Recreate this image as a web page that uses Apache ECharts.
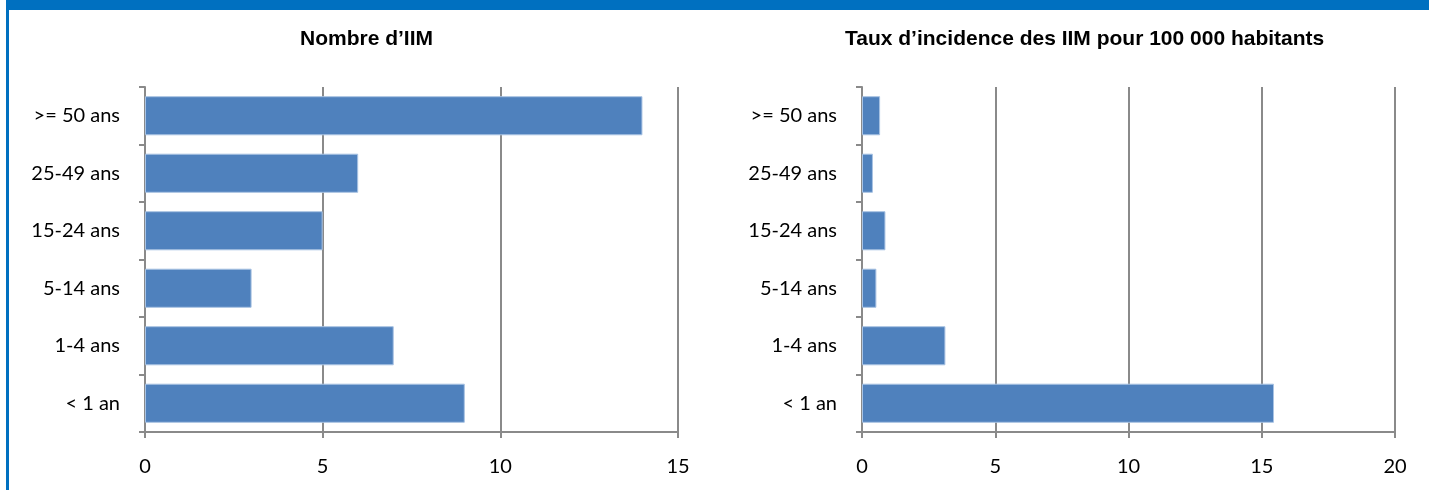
<!DOCTYPE html>
<html>
<head>
<meta charset="utf-8">
<script src="https://cdn.jsdelivr.net/npm/echarts@6/dist/echarts.min.js"></script>
<style>
  html, body { margin: 0; padding: 0; background: #fff; }
  #chart { width: 1429px; height: 490px; }
</style>
</head>
<body>
<div id="chart"></div>
<script>
// groupes d'age (du bas vers le haut)
var categories = ['< 1 an', '1-4 ans', '5-14 ans', '15-24 ans', '25-49 ans', '>= 50 ans'];
// nombre d'IIM
var nombreIIM = [9, 7, 3, 5, 6, 14];
// taux d'incidence pour 100 000 habitants
var tauxIncidence = [15.46, 3.13, 0.54, 0.88, 0.41, 0.68];
var xTicksLeft = { min: 0, max: 15, interval: 5 };
var xTicksRight = { min: 0, max: 20, interval: 5 };

var gris = '#8a8a8a';
var bleu = '#4f81bd';
var police = 'Lato';

function axeX(idx, t) {
    return {
        type: 'value', gridIndex: idx,
        min: t.min, max: t.max, interval: t.interval,
        axisLine: { show: true, lineStyle: { color: gris, width: 2 } },
        axisTick: { show: true, length: 6, lineStyle: { color: gris, width: 2 } },
        axisLabel: { margin: 25, color: '#000', fontSize: 20, fontFamily: police },
        splitLine: { show: true, lineStyle: { color: gris, width: 2 } }
    };
}
function axeY(idx) {
    return {
        type: 'category', gridIndex: idx, data: categories,
        axisLine: { show: true, lineStyle: { color: gris, width: 2 } },
        axisTick: { show: true, length: 6, lineStyle: { color: gris, width: 2 } },
        axisLabel: { margin: 25, color: '#000', fontSize: 20, fontFamily: police }
    };
}
function serie(idx, data) {
    return {
        type: 'bar', xAxisIndex: idx, yAxisIndex: idx, data: data,
        barCategoryGap: '32%',
        itemStyle: { color: bleu, borderColor: '#a9c3e3', borderWidth: 1 },
        silent: true
    };
}

var myChart = echarts.init(document.getElementById('chart'));
myChart.setOption({
    animation: false,
    title: [
        { text: 'Nombre d\u2019IIM', left: 295, top: 24,
          textStyle: { fontSize: 21, fontWeight: 'bold', color: '#000', fontFamily: 'Liberation Sans' } },
        { text: 'Taux d\u2019incidence des IIM pour 100 000 habitants', left: 840, top: 24,
          textStyle: { fontSize: 21, fontWeight: 'bold', color: '#000', fontFamily: 'Liberation Sans' } }
    ],
    graphic: [
        { type: 'rect', shape: { x: 6, y: 0, width: 1423, height: 10 }, style: { fill: '#0070c0' } },
        { type: 'rect', shape: { x: 6, y: 0, width: 3, height: 490 }, style: { fill: '#0070c0' } }
    ],
    grid: [
        { left: 145, top: 87, width: 533, height: 345 },
        { left: 862, top: 87, width: 533, height: 345 }
    ],
    xAxis: [axeX(0, xTicksLeft), axeX(1, xTicksRight)],
    yAxis: [axeY(0), axeY(1)],
    series: [serie(0, nombreIIM), serie(1, tauxIncidence)]
});
</script>
</body>
</html>
